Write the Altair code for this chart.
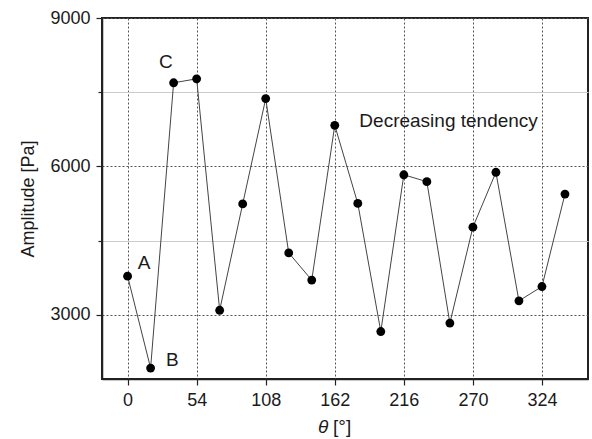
import altair as alt
import pandas as pd

theta = [0, 18, 36, 54, 72, 90, 108, 126, 144, 162, 180, 198, 216, 234, 252, 270, 288, 306, 324, 342]
amplitude = [3780, 1920, 7690, 7770, 3090, 5240, 7370, 4250, 3700, 6830,
             5250, 2660, 5830, 5690, 2830, 4770, 5880, 3280, 3570, 5440]

x_ticks = [0, 27, 54, 81, 108, 135, 162, 189, 216, 243, 270, 297, 324, 351]
y_ticks = [3000, 4500, 6000, 7500, 9000]

ann_text = ["A", "B", "C", "Decreasing tendency"]
ann_x = [13, 35, 30, 251]
ann_y = [4050, 2090, 8120, 6920]

FONT = "Liberation Sans"

df = pd.DataFrame({"theta": theta, "amp": amplitude})
ann = pd.DataFrame({"t": ann_text, "x": ann_x, "y": ann_y})

xscale = alt.Scale(domain=[-20, 360], nice=False, zero=False)
yscale = alt.Scale(domain=[1700, 9000], nice=False, zero=False)

xaxis = alt.Axis(
    values=x_ticks, title=None,
    labelExpr="datum.value % 54 === 0 ? datum.label : ''",
    labelFont=FONT, labelFontSize=18, labelColor="#1a1a1a", labelPadding=6,
    tickSize={"condition": {"test": "datum.value % 54 === 0", "value": 6}, "value": 4},
    tickColor="#222", tickWidth=1.2,
    domainColor="#222", domainWidth=1.5,
    grid=True,
    gridOpacity={"condition": {"test": "datum.value % 54 === 0", "value": 1}, "value": 0},
    gridColor="#555", gridDash=[2, 2], gridWidth=1,
)
yaxis = alt.Axis(
    values=y_ticks, title="Amplitude [Pa]",
    labelExpr="datum.value % 3000 === 0 ? datum.value : ''",
    labelFont=FONT, labelFontSize=18, labelColor="#1a1a1a", labelPadding=6,
    tickSize={"condition": {"test": "datum.value % 3000 === 0", "value": 6}, "value": 4},
    tickColor="#222", tickWidth=1.2,
    domainColor="#222", domainWidth=1.5,
    grid=True,
    gridColor={"condition": {"test": "datum.value % 3000 === 0", "value": "#555"}, "value": "#cccccc"},
    gridDash={"condition": {"test": "datum.value % 3000 === 0", "value": [2, 2]}, "value": []},
    gridWidth=1,
    titleFont=FONT, titleFontSize=18, titleFontWeight="normal", titleColor="#1a1a1a",
    titlePadding=12,
)

base = alt.Chart(df)

line = base.mark_line(color="#444", strokeWidth=1).encode(
    x=alt.X("theta:Q", scale=xscale, axis=xaxis),
    y=alt.Y("amp:Q", scale=yscale, axis=yaxis),
)
pts = base.mark_circle(color="black", opacity=1, size=78).encode(
    x=alt.X("theta:Q", scale=xscale),
    y=alt.Y("amp:Q", scale=yscale),
)
labels = alt.Chart(ann).mark_text(font=FONT, fontSize=19, color="#1a1a1a", align="center", baseline="middle").encode(
    x=alt.X("x:Q", scale=xscale),
    y=alt.Y("y:Q", scale=yscale),
    text="t:N",
)

t1 = alt.Chart(pd.DataFrame({"t": ["θ"]})).mark_text(
    font=FONT, fontSize=19, fontStyle="italic", color="#1a1a1a", align="left", baseline="alphabetic"
).encode(x=alt.value(216), y=alt.value(415), text="t:N")
t2 = alt.Chart(pd.DataFrame({"t": ["[°]"]})).mark_text(
    font=FONT, fontSize=19, color="#1a1a1a", align="left", baseline="alphabetic"
).encode(x=alt.value(231), y=alt.value(415), text="t:N")

chart = alt.layer(line, pts, labels, t1, t2).properties(
    width=486, height=361,
    autosize=alt.AutoSizeParams(type="none"),
    padding={"left": 102, "top": 18, "right": 4, "bottom": 60},
    background="white",
).configure_view(stroke="#222", strokeWidth=2)

chart.save("out.html", embed_options={"renderer": "svg", "actions": False})
